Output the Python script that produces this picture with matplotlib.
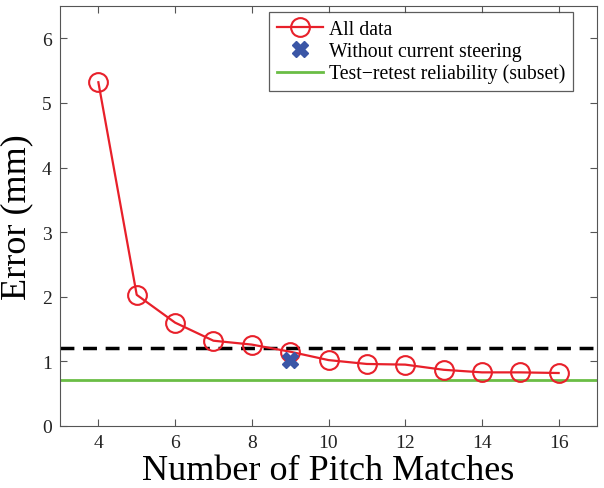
import numpy as np
import matplotlib.pyplot as plt

plt.rcParams['font.family'] = ['Liberation Serif', 'DejaVu Serif']

# data
n_matches = [4, 5, 6, 7, 8, 9, 10, 11, 12, 13, 14, 15, 16]
error_all = [5.32, 2.03, 1.60, 1.32, 1.26, 1.15, 1.02, 0.96, 0.95, 0.87, 0.83, 0.83, 0.82]
no_steer_x = [9]
no_steer_y = [1.02]
dashed_level = 1.2
retest_level = 0.71

fig = plt.figure(figsize=(6.04, 4.89), dpi=100)
ax = fig.add_axes([60/604, 1 - 427/489, 537/604, 420/489])

ax.axhline(dashed_level, color='black', lw=2.5, ls=(0, (4, 2.5)), zorder=1)
ax.plot(n_matches, error_all, color='#e8202a', lw=1.6, marker='o', ms=13.5,
        mfc='none', mec='#e8202a', mew=1.5, label='All data', zorder=3)
ax.plot(no_steer_x, no_steer_y, ls='none', marker='X', ms=11, color='#3b56a6',
        mec='#3b56a6', label='Without current steering', zorder=4)
ax.axhline(retest_level, color='#6abd45', lw=2, label='Test\u2212retest reliability (subset)', zorder=2)

ax.set_xlim(3, 17)
ax.set_ylim(0, 6.5)
ax.set_xticks(range(4, 17, 2))
ax.set_yticks(range(0, 7))
ax.tick_params(direction='in', top=True, right=True, labelsize=14, length=5,
               color='#555555', labelcolor='#222222', pad=6)
for s in ax.spines.values():
    s.set_color('#555555')
    s.set_linewidth(0.8)

ax.set_xlabel('Number of Pitch Matches', fontsize=26, labelpad=2)
ax.set_ylabel('Error (mm)', fontsize=26, labelpad=6)

leg = ax.legend(loc='upper right', fontsize=14.2, frameon=True, fancybox=False,
                edgecolor='#333333', borderpad=0.4, labelspacing=0.15,
                handlelength=2.3, handletextpad=0.3, borderaxespad=0,
                bbox_to_anchor=(0.955, 0.986))
leg.get_frame().set_linewidth(0.9)

fig.savefig('out.png', dpi=100)
